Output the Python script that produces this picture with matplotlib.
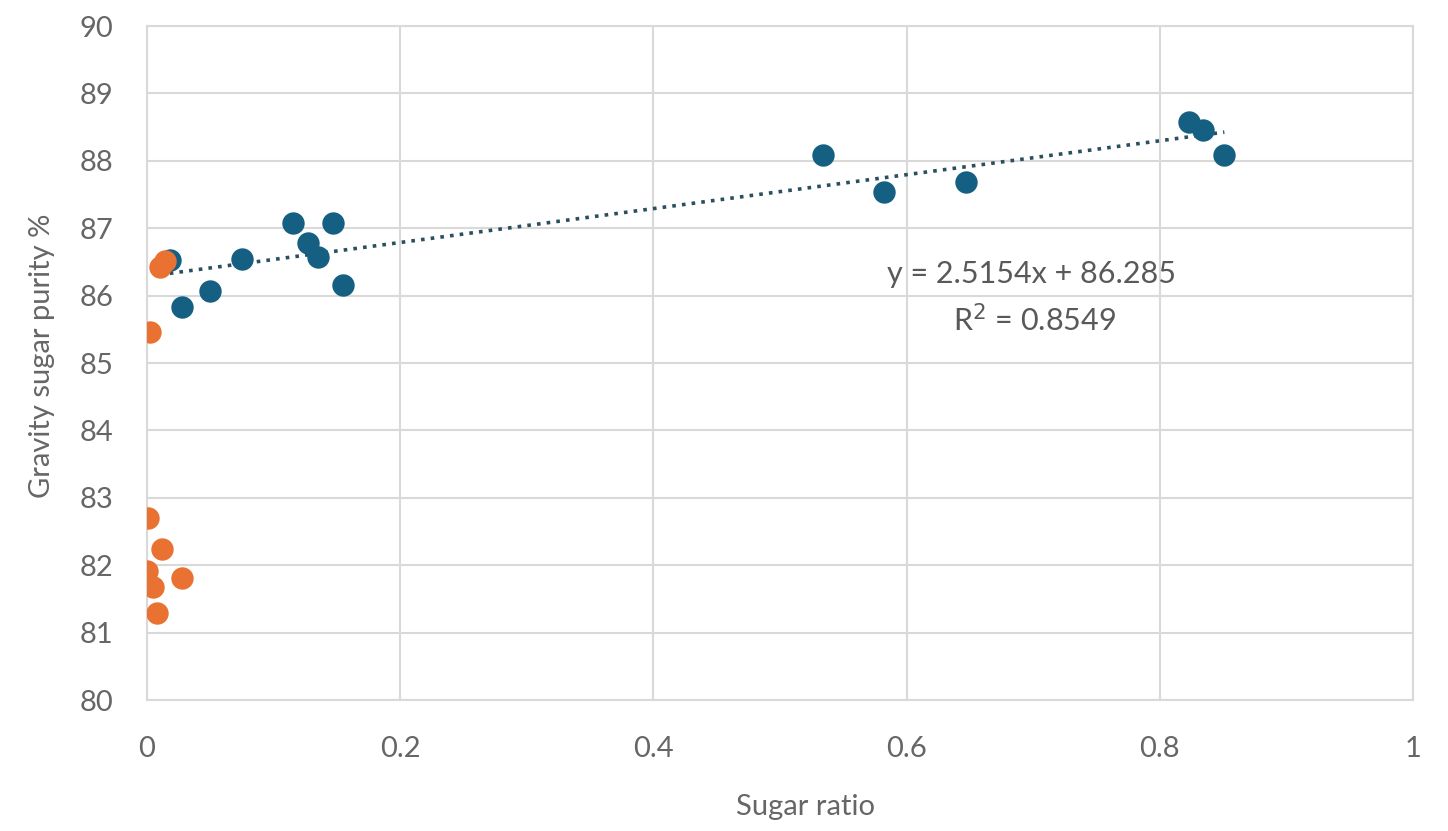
import numpy as np
import matplotlib
matplotlib.use("Agg")
import matplotlib.pyplot as plt

# blue series (used for the trend line)
blue_x = [0.018, 0.028, 0.050, 0.075, 0.115, 0.127, 0.135, 0.147, 0.155,
          0.534, 0.582, 0.647, 0.823, 0.834, 0.851]
blue_y = [86.53, 85.83, 86.07, 86.55, 87.07, 86.78, 86.58, 87.07, 86.16,
          88.09, 87.53, 87.68, 88.57, 88.46, 88.09]

# orange series
orange_x = [0.010, 0.014, 0.002, 0.001, 0.012, 0.000, 0.028, 0.005, 0.008]
orange_y = [86.42, 86.52, 85.46, 82.70, 82.24, 81.91, 81.81, 81.67, 81.29]

slope = 2.5154
intercept = 86.285
r2 = 0.8549

x_ticks = [0, 0.2, 0.4, 0.6, 0.8, 1]
x_tick_labels = ["0", "0.2", "0.4", "0.6", "0.8", "1"]
y_ticks = list(range(80, 91))

plt.rcParams['font.family'] = ['Lato', 'DejaVu Sans']

fig = plt.figure(figsize=(14.48, 8.31), dpi=100)
ax = fig.add_axes([0.1015, 0.1576, 0.8743, 0.8111])

ax.scatter(blue_x, blue_y, s=260, color='#156082', zorder=3, linewidths=0)
ax.scatter(orange_x, orange_y, s=260, color='#E97132', zorder=3, linewidths=0)

# trend line over the blue data range
tx = np.array([min(blue_x), max(blue_x)])
ax.plot(tx, slope * tx + intercept, color='#2A4F5E', linestyle=(0, (1, 1.7)),
        linewidth=2.6, zorder=2)

ax.text(0.699, 86.32, f"y = {slope}x + {intercept}", fontsize=22, color='#595959',
        ha='center', va='center')
ax.text(0.701, 85.64, f"R$^2$ = {r2}", fontsize=22, color='#595959',
        ha='center', va='center')

ax.set_xlim(0, 1)
ax.set_ylim(80, 90)
ax.set_xticks(x_ticks)
ax.set_xticklabels(x_tick_labels)
ax.set_yticks(y_ticks)

ax.grid(True, color='#D9D9D9', linewidth=1.5, zorder=0)
ax.set_axisbelow(True)
for side in ['top', 'right', 'left', 'bottom']:
    ax.spines[side].set_color('#D9D9D9')
    ax.spines[side].set_linewidth(1.5)

ax.tick_params(axis='both', length=0, labelsize=21, colors='#666666')
ax.tick_params(axis='x', pad=26)
ax.tick_params(axis='y', pad=24)

ax.set_xlabel('Sugar ratio', fontsize=21, color='#666666')
ax.set_ylabel('Gravity sugar purity %', fontsize=21, color='#666666')
ax.xaxis.set_label_coords(0.52, -0.14)
ax.yaxis.set_label_coords(-0.073, 0.51)

fig.savefig('out.png', dpi=100)
